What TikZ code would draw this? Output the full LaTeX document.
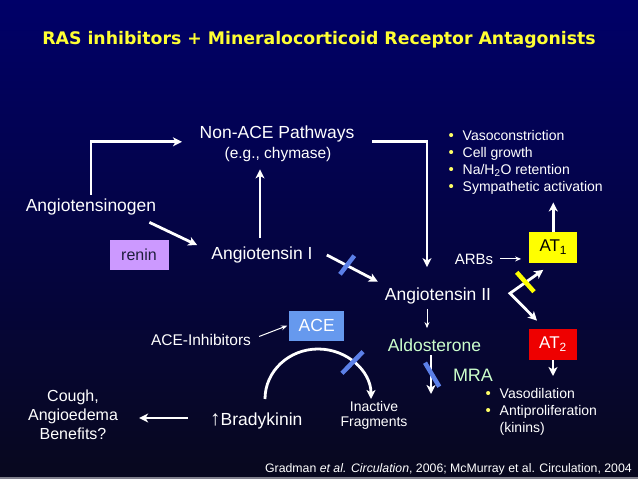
\documentclass[tikz,border=0pt]{standalone}
\usepackage{fontspec}
\setmainfont{Liberation Sans}
\newfontfamily\titlefont{DejaVu Sans}
\usetikzlibrary{arrows.meta,calc}
\definecolor{bgtop}{RGB}{0,0,104}
\definecolor{bgmid}{RGB}{3,3,68}
\definecolor{bgbot}{RGB}{8,8,30}
\definecolor{titleyel}{RGB}{255,255,51}
\definecolor{bulyel}{RGB}{255,255,102}
\definecolor{acebl}{RGB}{102,153,238}
\definecolor{barbl}{RGB}{92,128,232}
\definecolor{at1yel}{RGB}{255,255,0}
\definecolor{at2red}{RGB}{238,0,0}
\definecolor{reninlav}{RGB}{204,153,255}
\definecolor{renintx}{RGB}{30,30,60}
\definecolor{aldogrn}{RGB}{204,255,204}
\definecolor{footgray}{RGB}{128,128,140}
\newcommand\fsz[2]{\fontsize{#1}{#2}\selectfont}
\newcommand\bul[1]{\makebox[#1][l]{\hspace*{-0.5pt}\raisebox{-0.3pt}{\fsz{15}{15}\textcolor{bulyel}{•}}}}
\begin{document}
\begin{tikzpicture}[x=1pt,y=-1pt,
  lbl/.style={text=white, inner sep=0pt, font=\fsz{17.5}{21}},
  titlestyle/.style={text=titleyel, inner sep=0pt, font=\titlefont\fsz{17.3}{20}\bfseries},
  bullets/.style={text=white, inner sep=0pt, align=left, font=\fsz{14}{17}},
  reninbox/.style={fill=reninlav, text=renintx, minimum width=59pt, minimum height=30pt, inner sep=0pt, font=\fsz{16}{18}},
  acebox/.style={fill=acebl, text=white, minimum width=54.7pt, minimum height=30pt, inner sep=0pt, font=\fsz{17.5}{20}},
  atbox/.style={minimum width=48pt, minimum height=31pt, inner sep=0pt, font=\fsz{17}{20}},
  conn/.style={draw=white, line width=2.8pt, -{Stealth[length=9pt,width=9pt,inset=2.5pt]}},
  forkconn/.style={draw=white, line width=2.8pt, line join=miter, {Stealth[length=9pt,width=9pt,inset=2.5pt]}-{Stealth[length=9pt,width=9pt,inset=2.5pt]}},
  thinconn/.style={draw=white, line width=1pt, -{Stealth[length=6pt,width=5pt]}},
  bluebar/.style={draw=barbl, line width=4.5pt},
  yelbar/.style={draw=at1yel, line width=4.5pt}]
\shade[top color=bgtop, middle color=bgmid, bottom color=bgbot] (0,0) rectangle (638,479);
\fill[footgray] (0,477) rectangle (638,479);
\useasboundingbox (0,0) rectangle (638,479);

\node[titlestyle, anchor=base] (title) at (319,45) {RAS inhibitors + Mineralocorticoid Receptor Antagonists};

\node[lbl, anchor=base] (nonace) at (277,138) {Non-ACE Pathways};
\node[lbl, anchor=base, font=\fsz{15.5}{18}] (chym) at (278,158) {(e.g., chymase)};
\node[lbl, anchor=base] (angen) at (91,211.5) {Angiotensinogen};
\node[reninbox] (renin) at (139,255) {renin};
\node[lbl, anchor=base] (angI) at (262,259) {Angiotensin I};
\node[lbl, anchor=base] (angII) at (438,300) {Angiotensin II};
\node[lbl, anchor=base, font=\fsz{15}{18}] (arbs) at (474,264) {ARBs};
\node[atbox, fill=at1yel, text=black] (AT1) at (553.3,247.2) {AT\textsubscript{1}};
\node[atbox, fill=at2red, text=white] (AT2) at (553,344.3) {AT\textsubscript{2}};
\node[bullets, anchor=north west] (bulA) at (449,130) {\bul{13.5pt}Vasoconstriction\\ \bul{13.5pt}Cell growth\\ \bul{13.5pt}Na/H\textsubscript{2}O retention\\ \bul{13.5pt}Sympathetic activation};
\node[bullets, anchor=north west] (bulB) at (486,388) {\bul{13.5pt}Vasodilation\\ \bul{13.5pt}Antiproliferation\\ \hspace*{13.5pt}(kinins)};
\node[lbl, anchor=base, text=aldogrn] (aldo) at (434.5,351) {Aldosterone};
\node[lbl, anchor=base, text=aldogrn, font=\fsz{18}{21}] (mra) at (473,381.7) {MRA};
\node[acebox] (ACE) at (316.7,325.7) {ACE};
\node[lbl, anchor=base, font=\fsz{15.5}{18}] (acei) at (201,345) {ACE-Inhibitors};
\node[lbl, anchor=base west] (brady) at (210,425) {{\fsz{21}{21}↑}Bradykinin};
\node[lbl, anchor=north, align=center, font=\fsz{14}{15.7}] (inact) at (374,400.8) {Inactive\\Fragments};
\node[lbl, anchor=north, align=center, font=\fsz{16}{18.8}] (cough) at (73,390) {Cough,\\Angioedema\\Benefits?};
\node[lbl, anchor=base east, font=\fsz{12.3}{14}] (cite) at (632,472) {Gradman \textit{et al. Circulation}, 2006; McMurray et al. Circulation, 2004};

% connectors
\draw[conn] ($(angen.north)+(0,-4)$) |- ($(nonace.south west)+(-17.5,0)$);
\draw[conn] ($(nonace.south east)+(17.5,0)$) -| ($(angII.north)+(-11,-20)$);
\draw[conn] ($(angI.north)+(-2,-8)$) -- ($(angI.north |- chym.south)+(-2,8)$);
\draw[conn] ($(angen.south east)+(-7,7)$) -- ($(angI.north west)+(-14,-1)$);
\draw[conn] ($(angI.east)+(14,0.5)$) -- ($(angII.north west)+(-7,-5.5)$);
\draw[bluebar] (340,274.3) -- (354.3,255.7);
\draw[thinconn] ($(arbs.east)+(7,0)$) -- ($(arbs.east -| AT1.west)+(-8,0)$);
\draw[conn] (AT1.north) -- ($(AT1.north |- bulA.south)+(0,8)$);
\coordinate (fork) at (510,293.3);
\draw[forkconn] ($(AT1.south)+(-10,7)$) -- (fork) -- ($(AT2.north)+(-16,-8)$);
\draw[yelbar] (516.7,272.3) -- (534,291.7);
\draw[conn] (AT2.south) -- ($(AT2.south |- bulB.north)+(0,-12)$);
\draw[thinconn] ($(angII.south)+(-11,5)$) -- ($(angII.south |- aldo.north)+(-11,-10)$);
\coordinate (aldoend) at (431,394);
\draw[conn] ($(aldo.south)+(-3.5,4)$) -- (aldoend);
\draw[bluebar] (425,362.7) -- (439.3,386.7);
\draw[thinconn] ($(acei.east)+(8,-3)$) -- ($(ACE.west)+(-2,0)$);
\draw[conn] ($(brady.base west)+(55,-26)$) arc[start angle=180, end angle=360, x radius=53, y radius=50];
\draw[bluebar] (342,373.3) -- (363,351.7);
\draw[conn] ($(brady.base west)+(-22,-7)$) -- ($(cough.east |- brady.base west)+(21,-7)$);
\end{tikzpicture}
\end{document}
